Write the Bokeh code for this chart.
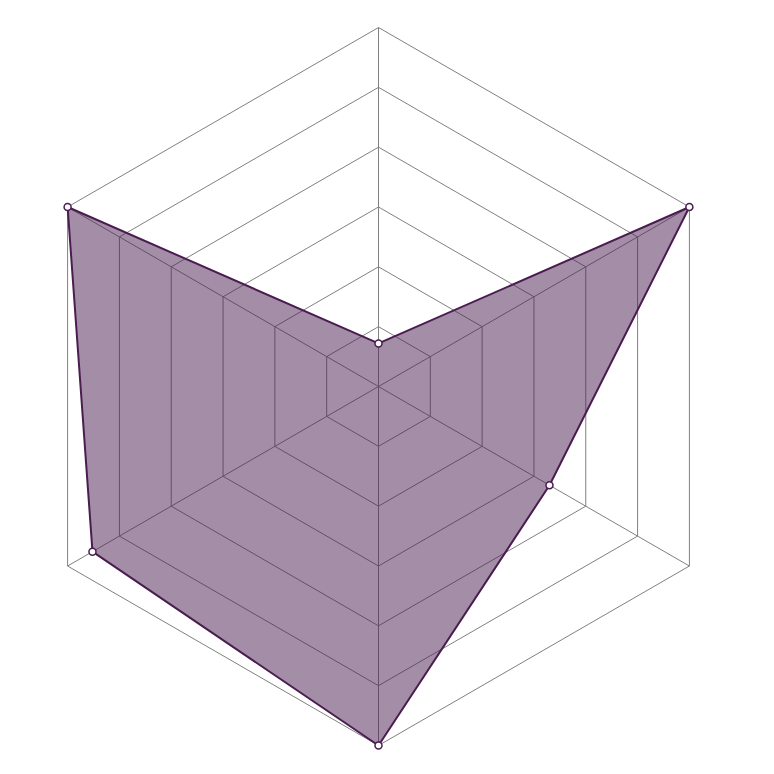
import numpy as np
from bokeh.plotting import figure
from bokeh.models import Range1d
from bokeh.embed import file_html
from bokeh.resources import INLINE

# Data
categories = ["A", "B", "C", "D", "E", "F"]
values = [12, 100, 55, 100, 92, 100]
max_value = 100
levels = [1, 2, 3, 4, 5, 6]
n_levels = 6

W = H = 758
cx_px, cy_px = 378, 386
R_px = 359.0

p = figure(width=W, height=H, output_backend="svg", toolbar_location=None,
           x_range=Range1d(-cx_px / R_px, (W - cx_px) / R_px),
           y_range=Range1d(-(H - cy_px) / R_px, cy_px / R_px),
           min_border=0, outline_line_color=None)
p.axis.visible = False
p.grid.visible = False
p.background_fill_color = "white"
p.border_fill_color = "white"

n = len(categories)
angles = [np.pi / 2 - i * 2 * np.pi / n for i in range(n)]

# hexagon grid
for lv in levels:
    r = lv / n_levels
    xs = [r * np.cos(a) for a in angles] + [r * np.cos(angles[0])]
    ys = [r * np.sin(a) for a in angles] + [r * np.sin(angles[0])]
    p.line(xs, ys, line_color="#808080", line_width=1)

# spokes
for a in angles:
    p.line([0, np.cos(a)], [0, np.sin(a)], line_color="#808080", line_width=1)

# data polygon
rs = [v / max_value for v in values]
px = [r * np.cos(a) for r, a in zip(rs, angles)]
py = [r * np.sin(a) for r, a in zip(rs, angles)]
p.patch(px, py, fill_color="#4a1c50", fill_alpha=0.5, line_color="#4a1c50", line_width=2)
p.scatter(px, py, size=7, fill_color="white", line_color="#4a1c50", line_width=1.5)

open("out.html", "w").write(file_html(p, INLINE))
